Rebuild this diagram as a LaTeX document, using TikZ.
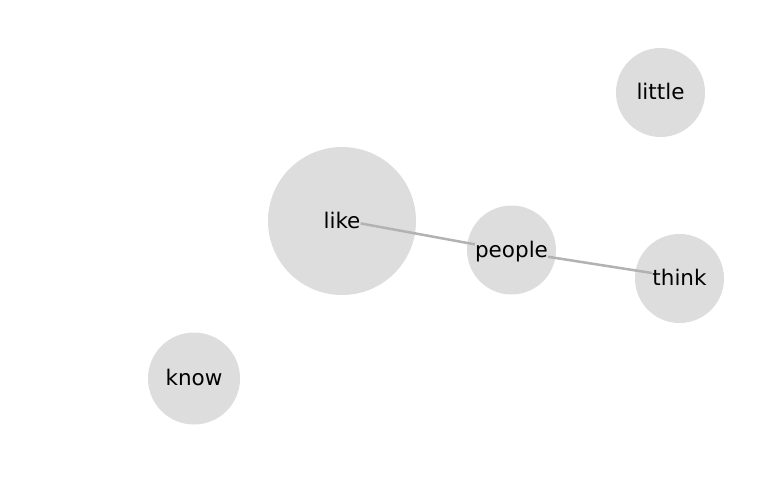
\documentclass[tikz,border=0pt]{standalone}
\usepackage{fontspec}
\setmainfont{DejaVu Sans}
\begin{document}
\begin{tikzpicture}[x=1pt,y=-1pt,
  bubble/.style={circle,fill=bubblegray,draw=none,inner sep=0pt,minimum size=#1},
  word/.style={anchor=base,inner sep=0pt,font=\fontsize{21.5}{25}\selectfont},
  link/.style={draw=linkgray,line width=2.5pt}]
\definecolor{bubblegray}{HTML}{DDDDDD}
\definecolor{linkgray}{HTML}{B2B2B2}
\useasboundingbox[fill=white] (0,0) rectangle (770,500);
% circles
\node[bubble=148pt] (cLike)   at (342,221)   {};
\node[bubble=89pt]  (cPeople) at (511.5,250) {};
\node[bubble=89pt]  (cThink)  at (679.5,278.5) {};
\node[bubble=89pt]  (cLittle) at (660.5,92.5) {};
\node[bubble=92pt]  (cKnow)   at (194,378.5) {};
% labels
\node[word] (like)   at (342,228)   {like};
\node[word] (people) at (511.5,257) {people};
\node[word] (think)  at (679.5,285.5) {think};
\node[word] (little) at (660.5,99.5) {little};
\node[word] (know)   at (194,385.5) {know};
% links
\draw[link] (like) -- (people);
\draw[link] (people) -- (think);
\end{tikzpicture}
\end{document}
